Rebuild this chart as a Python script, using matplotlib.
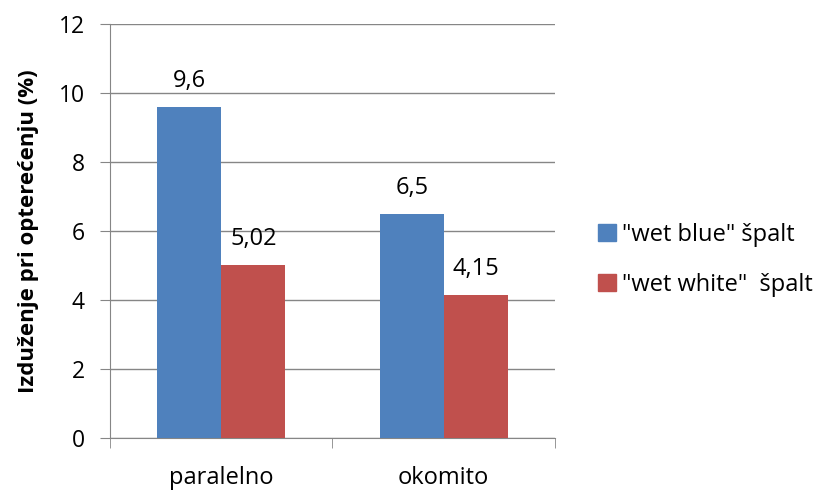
import numpy as np
import matplotlib.pyplot as plt
from matplotlib.patches import Patch

plt.rcParams['font.family'] = ['Open Sans', 'DejaVu Sans']

# data
kategorije = ['paralelno', 'okomito']
serije = ['"wet blue" špalt', '"wet white"  špalt']
wet_blue = [9.6, 6.5]
wet_white = [5.02, 4.15]
boje = ['#4F81BD', '#C0504D']

fig = plt.figure(figsize=(8.17, 4.93), dpi=100)
ax = fig.add_axes([0.1346, 0.1116, 0.5447, 0.8398])

x = np.arange(len(kategorije))
w = 0.288
for i, (vals, boja) in enumerate(zip([wet_blue, wet_white], boje)):
    pos = x - w / 2 + i * w
    ax.bar(pos, vals, width=w, color=boja, zorder=3)
    for p, v in zip(pos, vals):
        ax.annotate(f'{v:g}'.replace('.', ','), (p, v), xytext=(0, 10),
                    textcoords='offset points', ha='center', va='bottom', fontsize=17)

ax.set_xlim(-0.5, 1.5)
ax.set_ylim(0, 12)
ax.set_yticks(np.arange(0, 13, 2))
ax.yaxis.grid(True, color='#868686', lw=1, zorder=0)
ax.set_xticks(x)
ax.set_xticklabels(kategorije, fontsize=17)
ax.tick_params(axis='x', length=0, pad=20)
ax.set_xticks([-0.5, 0.5, 1.5], minor=True)
ax.tick_params(axis='x', which='minor', length=7, color='#868686')
ax.tick_params(axis='y', labelsize=16.5, length=7, color='#868686', pad=11)

for s in ['top', 'right']:
    ax.spines[s].set_visible(False)
for s in ['left', 'bottom']:
    ax.spines[s].set_color('#868686')

ax.set_ylabel('Izduženje pri opterećenju (%)', fontsize=16, fontweight='bold', labelpad=14)

handles = [Patch(color=c, label=l) for c, l in zip(boje, serije)]
fig.legend(handles=handles, loc='center left', bbox_to_anchor=(0.706, 0.473), frameon=False,
           fontsize=17, handlelength=0.75, handleheight=0.75, labelspacing=1.1, handletextpad=0.25)

fig.savefig('out.png', dpi=100)
